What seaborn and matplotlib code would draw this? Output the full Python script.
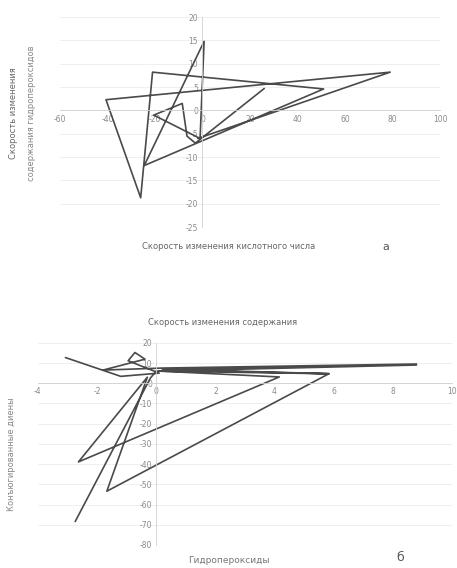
import matplotlib
matplotlib.use("Agg")
import matplotlib.pyplot as plt
import seaborn as sns
import pandas as pd

# Top chart (а)
top_x = [-2, 79, -40.6, -26, -21, 51, -24.5, 0.7, -1, -20.5, -8.5, -6.5, -3, 26]
top_y = [-6, 8.2, 2.3, -18.7, 8.2, 4.6, -11.8, 14.8, -6, -1, 1.5, -5.5, -7, 4.7]
top_xticks = [-60, -40, -20, 0, 20, 40, 60, 80, 100]
top_yticks = [-25, -20, -15, -10, -5, 0, 5, 10, 15, 20]

# Bottom chart (б)
bot_x = [-3.07, -1.2, 0.1, -0.95, -0.72, -0.38, -1.8, 0.2, 8.8, 0.3, 5.84, 0.2,
         8.8, 0.1, 4.16, -2.63, -0.3, -1.67, 5.84, 0.0, -0.2, -2.74]
bot_y = [12.7, 3.4, 5.0, 11.1, 15.2, 11.9, 6.5, 7.5, 9.5, 6.5, 4.7, 7.0,
         9.0, 6.0, 3.1, -38.9, 3.0, -53.4, 4.7, 6.0, 2.5, -68.4]
bot_xticks = [-4, -2, 0, 2, 4, 6, 8, 10]
bot_yticks = [-80, -70, -60, -50, -40, -30, -20, -10, 0, 10, 20]

sns.set_style("white")
plt.rcParams['font.family'] = ['DejaVu Sans']

fig = plt.figure(figsize=(4.57, 5.68), dpi=100)
line_color = "#4a4a4a"
tick_color = "#8a8a8a"


def style_axes(ax, xticks, yticks, xlim, ylim):
    ax.set_xlim(*xlim)
    ax.set_ylim(*ylim)
    ax.set_xticks(xticks)
    ax.set_yticks(yticks)
    ax.set_xticklabels([str(v) for v in xticks])
    ax.set_yticklabels([str(v) for v in yticks])
    for s in ["top", "right"]:
        ax.spines[s].set_visible(False)
    ax.spines["left"].set_position(("data", 0))
    ax.spines["bottom"].set_position(("data", 0))
    for s in ["left", "bottom"]:
        ax.spines[s].set_color("#d0d0d0")
        ax.spines[s].set_linewidth(0.6)
    ax.tick_params(axis="both", length=0, labelsize=5.5, labelcolor=tick_color, pad=3)
    ax.yaxis.grid(True, color="#ececec", linewidth=0.6)
    ax.set_axisbelow(True)
    ax.set_xlabel("")
    ax.set_ylabel("")


ax1 = fig.add_axes([0.131, 0.600, 0.832, 0.370])
df1 = pd.DataFrame({"x": top_x, "y": top_y})
sns.lineplot(data=df1, x="x", y="y", sort=False, estimator=None, ax=ax1,
             color=line_color, linewidth=1.2)
style_axes(ax1, top_xticks, top_yticks, (-60, 100), (-25, 20))
for lbl in ax1.get_xticklabels():
    lbl.set_verticalalignment("top")

fig.text(0.030, 0.800, "Скорость изменения", rotation=90, ha="center", va="center",
         fontsize=6, color="#666666")
fig.text(0.070, 0.800, "содержания гидропероксидов", rotation=90, ha="center", va="center",
         fontsize=6, color="#888888")
fig.text(0.50, 0.566, "Скорость изменения кислотного числа", ha="center", va="center",
         fontsize=6, color="#666666")
fig.text(0.845, 0.566, "а", ha="center", va="center", fontsize=8, color="#555555")

ax2 = fig.add_axes([0.083, 0.0405, 0.906, 0.356])
df2 = pd.DataFrame({"x": bot_x, "y": bot_y})
sns.lineplot(data=df2, x="x", y="y", sort=False, estimator=None, ax=ax2,
             color=line_color, linewidth=1.2)
style_axes(ax2, bot_xticks, bot_yticks, (-4, 10), (-80, 20))

fig.text(0.486, 0.432, "Скорость изменения содержания", ha="center", va="center",
         fontsize=6, color="#666666")
fig.text(0.026, 0.200, "Конъюгированные диены", rotation=90, ha="center", va="center",
         fontsize=6, color="#888888")
fig.text(0.50, 0.014, "Гидропероксиды", ha="center", va="center",
         fontsize=6.5, color="#777777")
fig.text(0.875, 0.018, "б", ha="center", va="center", fontsize=9, color="#555555")

fig.savefig("out.png", dpi=100, facecolor="white")
